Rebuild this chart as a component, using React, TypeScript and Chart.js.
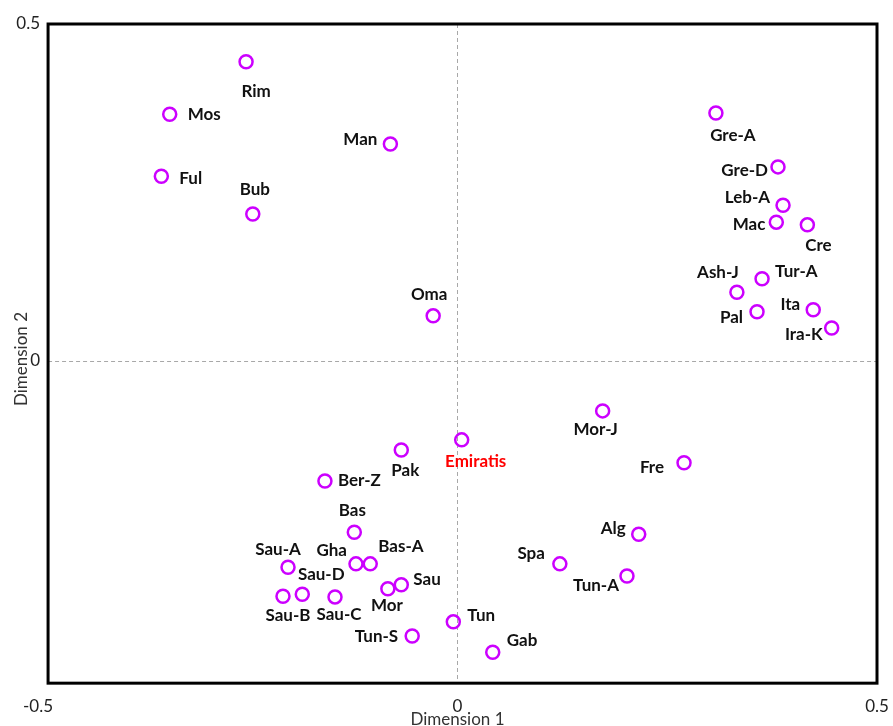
import React, { useEffect, useRef } from "react";
import { Chart, registerables } from "chart.js";

Chart.register(...registerables);

const names = [
  "Rim", "Mos", "Ful", "Bub", "Man", "Oma",
  "Gre-A", "Gre-D", "Leb-A", "Mac", "Cre", "Tur-A", "Ash-J", "Pal", "Ita", "Ira-K",
  "Mor-J", "Fre", "Emiratis", "Pak", "Ber-Z",
  "Bas", "Gha", "Bas-A", "Sau-A", "Sau-D", "Sau-B", "Sau-C", "Mor", "Sau", "Tun-S", "Tun", "Gab",
  "Spa", "Alg", "Tun-A",
];
const dim1 = [
  -0.252, -0.343, -0.353, -0.244, -0.080, -0.029,
  0.308, 0.382, 0.388, 0.380, 0.417, 0.363, 0.333, 0.357, 0.424, 0.446,
  0.173, 0.270, 0.005, -0.067, -0.158,
  -0.123, -0.121, -0.104, -0.202, -0.185, -0.208, -0.146, -0.083, -0.067, -0.054, -0.005, 0.042,
  0.122, 0.216, 0.202,
];
const dim2 = [
  0.444, 0.366, 0.274, 0.218, 0.322, 0.067,
  0.368, 0.288, 0.231, 0.206, 0.202, 0.122, 0.102, 0.073, 0.076, 0.049,
  -0.074, -0.151, -0.117, -0.132, -0.178,
  -0.254, -0.301, -0.301, -0.306, -0.346, -0.349, -0.350, -0.338, -0.332, -0.408, -0.387, -0.432,
  -0.301, -0.257, -0.319,
];
const highlighted = ["Emiratis"];
const xTickValues = [-0.5, 0, 0.5];
const yTickValues = [0.5, 0];
const xTitle = "Dimension 1";
const yTitle = "Dimension 2";

// label placement (layout): offset in px from the point and text alignment
const labelLayout: Record<string, [number, number, CanvasTextAlign]> = {
  "Rim": [10, 30, "center"], "Mos": [18, 0, "left"], "Ful": [18, 2, "left"], "Bub": [2, -25, "center"],
  "Man": [-13, -4, "right"], "Oma": [-4, -21, "center"],
  "Gre-A": [17, 23, "center"], "Gre-D": [-10, 4, "right"], "Leb-A": [-13, -8, "right"],
  "Mac": [-11, 2, "right"], "Cre": [11, 21, "center"], "Tur-A": [13, -7, "left"],
  "Ash-J": [-19, -20, "center"], "Pal": [-14, 6, "right"], "Ita": [-13, -5, "right"],
  "Ira-K": [-9, 7, "right"], "Mor-J": [-7, 19, "center"], "Fre": [-20, 5, "right"],
  "Emiratis": [14, 22, "center"], "Pak": [4, 21, "center"], "Ber-Z": [13, 0, "left"],
  "Bas": [-2, -22, "center"], "Gha": [-9, -13, "right"], "Bas-A": [8, -17, "left"],
  "Sau-A": [-10, -18, "center"], "Sau-D": [19, -20, "center"], "Sau-B": [5, 19, "center"],
  "Sau-C": [4, 18, "center"], "Mor": [-1, 17, "center"], "Sau": [12, -5, "left"],
  "Tun-S": [-14, 1, "right"], "Tun": [14, -6, "left"], "Gab": [14, -12, "left"],
  "Spa": [-15, -10, "right"], "Alg": [-13, -6, "right"], "Tun-A": [-8, 10, "right"],
};

const FONT = "Lato, 'Open Sans', sans-serif";

const decorPlugin = {
  id: "decor",
  beforeDatasetsDraw(chart: any) {
    const { ctx, scales } = chart;
    const xs = scales.x, ys = scales.y;
    const left = xs.getPixelForValue(-0.488);
    const right = xs.getPixelForValue(0.5);
    const top = ys.getPixelForValue(0.5);
    const bottom = ys.getPixelForValue(-0.478);
    const x0 = xs.getPixelForValue(0);
    const y0 = ys.getPixelForValue(0);
    ctx.save();
    ctx.strokeStyle = "#a8a8a8";
    ctx.lineWidth = 1;
    ctx.setLineDash([4, 3]);
    ctx.beginPath();
    ctx.moveTo(Math.round(x0) - 0.5, top);
    ctx.lineTo(Math.round(x0) - 0.5, bottom);
    ctx.moveTo(left, Math.round(y0) + 0.5);
    ctx.lineTo(right, Math.round(y0) + 0.5);
    ctx.stroke();
    ctx.setLineDash([]);
    ctx.strokeStyle = "#000";
    ctx.lineWidth = 3;
    ctx.strokeRect(left, top, right - left, bottom - top);
    // tick labels
    ctx.fillStyle = "#222";
    ctx.font = `17px ${FONT}`;
    ctx.textBaseline = "middle";
    ctx.textAlign = "right";
    yTickValues.forEach((v) => {
      ctx.fillText(String(v), left - 8, ys.getPixelForValue(v));
    });
    ctx.textAlign = "center";
    xTickValues.forEach((v) => {
      ctx.fillText(String(v), xs.getPixelForValue(v), bottom + 23);
    });
    ctx.font = `17px ${FONT}`;
    ctx.fillStyle = "#333";
    ctx.fillText(xTitle, x0, bottom + 36);
    ctx.save();
    ctx.translate(22, y0 - 2);
    ctx.rotate(-Math.PI / 2);
    ctx.fillText(yTitle, 0, 0);
    ctx.restore();
    ctx.restore();
  },
  afterDatasetsDraw(chart: any) {
    const { ctx } = chart;
    const meta = chart.getDatasetMeta(0);
    ctx.save();
    ctx.font = `bold 17px ${FONT}`;
    ctx.textBaseline = "middle";
    meta.data.forEach((el: any, i: number) => {
      const name = names[i];
      const lay = labelLayout[name] || [12, 0, "left"];
      ctx.textAlign = lay[2];
      ctx.fillStyle = highlighted.includes(name) ? "#ff0000" : "#111";
      ctx.fillText(name, el.x + lay[0], el.y + lay[1]);
    });
    ctx.restore();
  },
};

export default function App() {
  const ref = useRef<HTMLCanvasElement>(null);
  useEffect(() => {
    document.body.style.margin = "0";
    const chart = new Chart(ref.current!, {
      type: "scatter",
      data: {
        datasets: [
          {
            data: names.map((_, i) => ({ x: dim1[i], y: dim2[i] })),
            pointRadius: 6.5,
            pointBorderWidth: 2.5,
            pointBorderColor: "#cc00ff",
            pointBackgroundColor: "rgba(255,255,255,0)",
          },
        ],
      },
      options: {
        animation: false,
        responsive: false,
        devicePixelRatio: 1,
        layout: { padding: { left: 38, right: 16, top: 24, bottom: 28 } },
        plugins: { legend: { display: false }, tooltip: { enabled: false } },
        scales: {
          x: { type: "linear", min: -0.5, max: 0.5, display: false },
          y: { type: "linear", min: -0.5, max: 0.5, display: false },
        },
      },
      plugins: [decorPlugin],
    });
    return () => chart.destroy();
  }, []);
  return (
    <div style={{ width: 893, height: 726, background: "#fff" }}>
      <canvas ref={ref} width={893} height={726} />
    </div>
  );
}
